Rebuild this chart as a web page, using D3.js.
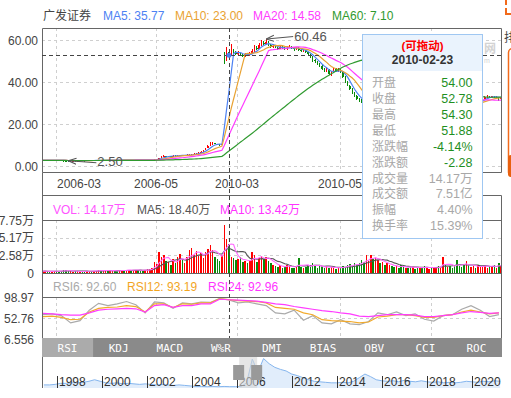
<!DOCTYPE html>
<html>
<head>
<meta charset="utf-8">
<script src="https://cdn.jsdelivr.net/npm/d3@7"></script>
<style>
body { margin: 0; background: #fff; }
text { font-family: "Liberation Sans", Arial, "Noto Sans CJK SC", sans-serif; }
</style>
</head>
<body>
<script>
// daily candles [open, close, high, low], 2006-02-21 .. 2006-06, then 2010-02-12 .. 2010-08
var candles = [
  [2.64,2.66,2.68,2.62],[2.66,2.68,2.70,2.64],[2.68,2.65,2.69,2.63],[2.65,2.63,2.66,2.61],[2.63,2.66,2.67,2.62],
  [2.66,2.70,2.72,2.65],[2.70,2.68,2.71,2.66],[2.68,2.64,2.69,2.62],[2.64,2.60,2.65,2.58],[2.60,2.57,2.61,2.55],
  [2.57,2.55,2.58,2.52],[2.55,2.53,2.56,2.50],[2.53,2.56,2.58,2.52],[2.56,2.58,2.60,2.55],[2.58,2.57,2.60,2.55],
  [2.57,2.60,2.62,2.56],[2.60,2.62,2.64,2.59],[2.62,2.61,2.63,2.59],[2.61,2.59,2.62,2.57],[2.59,2.62,2.63,2.58],
  [2.62,2.64,2.66,2.61],[2.64,2.63,2.66,2.61],[2.63,2.66,2.68,2.62],[2.66,2.69,2.71,2.65],[2.69,2.72,2.75,2.68],
  [2.72,2.70,2.74,2.68],[2.70,2.73,2.75,2.69],[2.73,2.75,2.78,2.72],[2.75,2.72,2.76,2.70],[2.72,2.74,2.76,2.71],
  [2.74,2.77,2.79,2.73],[2.77,2.76,2.79,2.74],[2.76,2.74,2.77,2.72],[2.74,2.78,2.80,2.73],[2.78,2.80,2.83,2.77],
  [2.80,2.79,2.82,2.77],[2.79,2.82,2.84,2.78],[2.82,2.85,2.88,2.81],[2.85,2.83,2.86,2.81],[2.83,2.86,2.88,2.82],
  [2.86,2.88,2.91,2.85],[2.88,2.84,2.89,2.82],[2.84,2.80,2.85,2.78],[2.80,2.77,2.81,2.75],[2.77,2.82,2.84,2.76],
  [2.82,2.86,2.88,2.81],[2.86,2.90,2.93,2.85],[2.90,2.95,2.98,2.88],[2.96,3.10,3.18,2.94],[3.10,3.45,3.52,3.06],
  [3.45,3.90,3.95,3.40],[3.90,4.35,4.60,3.85],[4.35,4.80,5.20,4.30],[4.85,4.62,4.95,4.50],[4.60,4.78,4.90,4.52],
  [4.78,4.70,4.85,4.62],[4.70,4.95,5.05,4.66],[4.95,4.88,5.02,4.80],[4.88,5.05,5.15,4.84],[5.05,5.22,5.40,5.00],
  [5.22,5.00,5.26,4.94],[5.00,5.15,5.22,4.96],[5.15,5.35,5.50,5.10],[5.35,5.48,5.62,5.28],[5.48,5.60,5.75,5.40],
  [5.60,5.85,5.98,5.55],[5.85,6.15,6.30,5.80],[6.15,6.40,6.55,6.08],[6.40,6.80,6.95,6.35],[6.80,7.45,7.60,6.75],
  [7.45,8.60,8.80,7.40],[8.60,9.50,9.90,8.50],[9.50,10.40,11.20,9.40],[10.40,10.95,11.60,10.20],[10.95,10.50,11.10,10.30],
  [10.50,10.10,10.60,9.90],[10.10,9.90,10.30,9.60],[9.90,10.30,10.60,9.80],
  [54.00,49.90,54.30,48.80],[50.20,55.06,56.50,49.80],[54.00,52.78,54.30,51.88],[52.60,55.40,58.00,52.30],[55.00,54.20,55.80,53.50],
  [54.00,53.50,54.60,52.80],[53.40,54.10,54.80,52.90],[54.00,53.00,54.50,52.60],[53.00,52.40,53.60,51.80],[52.50,53.30,54.00,52.00],
  [53.20,52.80,53.80,52.30],[52.80,53.60,54.20,52.50],[53.50,54.80,55.60,53.20],[54.80,56.50,57.40,54.50],[56.40,55.80,57.00,55.20],
  [55.90,57.60,58.80,55.60],[57.50,58.90,59.80,57.00],[58.80,58.00,59.50,57.40],[58.20,59.20,60.46,57.80],[59.00,57.60,59.40,57.10],
  [57.50,56.80,58.00,56.20],[56.80,57.30,57.90,56.40],[57.20,56.50,57.60,56.00],[56.40,55.90,56.90,55.30],[55.90,56.60,57.20,55.50],
  [56.50,56.10,57.00,55.60],[56.00,55.70,56.50,55.10],[55.80,56.40,57.00,55.40],[56.40,56.90,57.60,56.00],[56.80,56.20,57.20,55.80],
  [56.10,55.60,56.50,55.00],[55.60,56.30,56.90,55.30],[56.20,55.40,56.50,54.90],[55.30,54.60,55.70,54.10],[54.60,55.20,55.80,54.20],
  [55.10,54.30,55.40,53.80],[54.20,53.10,54.50,52.60],[53.00,52.00,53.30,51.40],[51.90,50.20,52.20,49.30],[50.30,49.80,51.00,49.10],
  [49.80,48.60,50.20,48.10],[48.50,47.80,49.10,47.20],[47.60,46.40,48.00,45.90],[46.40,45.20,46.80,44.60],[45.30,45.90,46.50,44.80],
  [45.80,43.60,46.00,43.20],[43.50,44.50,45.10,43.00],[44.60,46.10,46.80,44.20],[46.00,45.40,46.60,44.90],[45.30,46.00,46.70,44.80],
  [45.90,44.70,46.20,44.20],[44.60,42.50,44.90,42.00],[42.40,40.10,42.80,39.70],[40.00,38.30,40.50,37.90],[38.20,36.50,38.60,36.00],
  [36.40,34.80,37.00,34.20],[34.80,33.10,35.30,32.70],[33.20,31.90,33.80,31.40],[31.80,31.20,32.50,30.70],[31.10,30.50,31.70,30.00],
  [30.40,30.00,31.00,29.60],[30.00,31.20,31.60,29.50],[31.10,32.60,33.00,30.80],[32.50,34.20,34.80,32.10],[34.10,33.60,34.90,33.20],
  [33.50,34.50,35.00,33.10],[34.40,35.30,35.90,34.00],[35.20,34.70,35.60,34.30],[34.60,35.50,36.00,34.30],[35.40,34.90,35.80,34.50],
  [34.80,35.60,36.10,34.50],[35.50,36.30,36.90,35.20],[36.20,35.70,36.60,35.30],[35.60,35.00,35.90,34.70],[34.90,35.60,36.00,34.60],
  [35.50,35.10,35.90,34.80],[35.00,34.40,35.30,34.00],[34.30,33.80,34.60,33.40],[33.70,34.20,34.60,33.40],[34.10,33.60,34.40,33.30],
  [33.50,33.00,33.80,32.60],[32.90,33.40,33.80,32.60],[33.30,32.80,33.60,32.40],[32.70,32.30,33.10,31.90],[32.20,32.70,33.10,31.90],
  [32.60,32.10,32.90,31.80],[32.00,31.50,32.30,31.10],[31.40,32.00,32.40,31.20],[31.90,32.40,32.80,31.60],[32.30,31.90,32.60,31.60],
  [31.80,32.50,32.90,31.60],[32.40,33.00,33.40,32.10],[32.90,32.60,33.30,32.30],[32.50,33.20,33.60,32.30],[33.10,34.10,34.60,32.90],
  [34.00,33.70,34.40,33.40],[33.60,34.30,34.70,33.40],[34.20,33.50,34.50,33.20],[33.40,32.60,33.70,32.20],[32.50,31.80,32.80,31.40],
  [31.70,31.00,32.00,30.60],[30.90,30.40,31.20,30.00],[30.30,29.80,30.60,29.40],[29.70,29.30,30.00,28.90],[29.20,29.80,30.20,28.90],
  [29.70,29.40,30.00,29.10],[29.30,29.90,30.30,29.00],[29.80,30.40,30.80,29.50],[30.30,30.10,30.70,29.80],[30.00,30.80,31.20,29.80],
  [30.70,31.50,31.90,30.50],[31.40,32.20,32.60,31.10],[32.10,32.80,33.20,31.90],[32.70,33.20,33.60,32.50],[33.10,32.70,33.40,32.40],
  [32.60,33.10,33.50,32.30],[33.00,32.60,33.30,32.30],[32.50,32.90,33.30,32.20],[32.80,32.30,33.00,31.00],[32.20,32.60,32.90,31.90]
];

// volume in 万, same days as candles
var volumes = [
  0.25,0.30,0.22,0.18,0.26,0.35,0.28,0.20,0.30,0.38,0.42,0.33,0.25,0.20,0.24,0.28,0.22,0.19,0.26,0.31,
  0.27,0.23,0.29,0.36,0.40,0.32,0.35,0.44,0.30,0.28,0.37,0.33,0.29,0.41,0.45,0.36,0.40,0.48,0.38,0.42,
  0.50,0.44,0.36,0.33,0.46,0.52,0.60,0.75,
  1.6,1.3,3.1,2.3,2.6,1.8,1.6,1.2,2.0,1.5,2.3,2.8,1.9,1.4,2.4,3.4,3.6,2.6,3.2,2.5,2.9,2.2,3.0,3.5,4.1,3.3,2.4,2.0,1.8,2.6,
  7.0,5.0,4.2,2.4,2.2,1.9,2.0,2.4,1.6,1.8,1.5,1.7,3.1,2.6,1.6,2.2,2.5,2.0,2.4,1.8,
  1.4,1.2,1.0,0.9,1.1,0.8,0.9,1.2,1.0,0.8,0.7,1.0,2.2,0.9,0.8,
  0.9,1.1,1.2,1.4,1.0,0.8,1.1,0.9,0.7,1.0,0.8,0.9,0.7,0.6,0.8,0.9,1.0,
  0.9,1.1,1.3,1.0,1.5,1.2,1.4,1.9,1.6,2.6,1.8,2.6,2.0,2.2,1.9,1.5,1.6,1.2,1.4,1.1,1.0,
  0.9,1.0,0.8,1.1,0.9,0.7,0.8,1.0,0.9,0.6,0.8,0.7,0.9,1.0,0.8,0.6,0.7,0.9,0.8,1.0,
  0.9,2.4,1.1,0.9,1.0,0.8,1.2,1.9,1.0,0.9,1.2,1.7,1.1,0.9,1.0,0.8,1.1,0.9,1.0,1.2,0.8,1.0,0.9,1.1,0.8,1.5,1.0
];

// RSI read every 4th day
var rsiDays = [0,4,8,12,16,20,24,28,32,36,40,44,48,52,56,60,64,68,72,76,80,84,88,92,96,
  100,104,108,112,116,120,124,128,132,136,140,144,148,152,156,160,164,168,172,176,180,184,188,192,196];
var rsi6 = [60,62,58,42,47,70,85,80,84,89,82,64,88,86,74,86,84,88,87,96,92.6,86,88,84,80,
  64,62,70,48,58,42,40,49,40,38,45,64,60,66,58,62,50,46,58,60,72,80,70,56,60];
var rsi12 = [56,57,54,49,50,66,74,76,77,80,78,66,84,84,76,84,83,86,86,95,93.19,91,90,89,86,
  76,74,72,64,60,49,47,46,45,42,44,55,57,60,60,58,54,54,58,60,66,70,66,62,64];
var rsi24 = [63,62,60,59,59,64,70,72,73,74,73,66,80,82,76,80,80,84,84,94,92.96,92,91,90,87,
  84,82,78,75,72,69,67,64,62,57,56,58,60,60,60,59,56,56,58,60,64,67,65,63,64];

var xTickDays = [6, 49, 84, 128, 167];
var xTickLabels = ["2006-03", "2006-05", "2010-03", "2010-05", "2010-07"];
var priceTicks = [0, 20, 40, 60];
var volTicks = [0, 2.58, 5.17, 7.75];
var volTickLabels = ["0", "2.58万", "5.17万", "7.75万"];
var rsiTicks = [6.556, 52.76, 98.97];
var rsiTickLabels = ["6.556", "52.76", "98.97"];

// navigator: whole history, one value per quarter of trading months
var navValues = [6,6,7,9,9,10,10,11,13,16,13,10,9,10,8,9,8,7,8,7,6,7,6,5,6,5,4,3,3,2.5,
  3,2.5,3,2.6,2.6,3,10,56,31,57,47,40,36,33,27,24,20,16,13,12,11,10,10,11,10,13,20,27,22,16,
  14,13,14,12,15,13,12,14,12,11,12,10,11,10,11,13,12,11,13,12,14,13];
var navYears = ["1998","2000","2002","2004","2006","2012","2014","2016","2018","2020"];
var navYearMonths = [8, 32, 56, 80, 104, 133, 157, 181, 205, 229];
var navWindow = [105, 114.6];

var tabNames = ["RSI", "KDJ", "MACD", "W%R", "DMI", "BIAS", "OBV", "CCI", "ROC"];

var crossDay = 80;
var maNames = ["MA5", "MA10", "MA20", "MA60"];
var maDays = [5, 10, 20, 60];
var maColors = ["#4d82f3", "#e9a232", "#ff3cff", "#2f9a2f"];
var maReadout = ["35.77", "23.00", "14.58", "7.10"];
var volReadout = ["14.17万", "18.40万", "13.42万"];
var rsiReadout = ["92.60", "93.19", "92.96"];
var tipLabels = ["开盘", "收盘", "最高", "最低", "涨跌幅", "涨跌额", "成交量", "成交额", "振幅", "换手率"];
var tipValues = ["54.00", "52.78", "54.30", "51.88", "-4.14%", "-2.28", "14.17万", "7.51亿", "4.40%", "15.39%"];

var upColor = "#ff0000", downColor = "#0a8a0a", frameColor = "#666", gridColor = "#cfcfcf";
var left = 42, right = 502;
var tipBox = { x: 362.5, y: 34.5, w: 120, h: 204 };

var svg = d3.select("body").append("svg")
    .attr("width", 511)
    .attr("height", 398);

var x = d3.scaleBand().domain(d3.range(candles.length)).range([left, right]).paddingInner(0.35);
function cx(i) { return x(i) + x.bandwidth() / 2; }
var y = d3.scaleLinear().domain([0, 60]).range([166, 40]);
var yV = d3.scaleLinear().domain([0, 7.75]).range([273, 220]);
var yR = d3.scaleLinear().domain([6.556, 98.97]).range([339, 297]);

function movingAvg(vals, n) {
    return vals.map(function (v, i) {
        return d3.mean(vals.slice(Math.max(0, i - n + 1), i + 1));
    });
}
var closes = candles.map(function (d) { return d[1]; });

var defs = svg.append("defs");
defs.append("clipPath").attr("id", "clipP").append("rect")
    .attr("x", left).attr("y", 28).attr("width", right - left).attr("height", 144);
defs.append("clipPath").attr("id", "clipV").append("rect")
    .attr("x", left).attr("y", 220).attr("width", right - left).attr("height", 53);
defs.append("clipPath").attr("id", "clipR").append("rect")
    .attr("x", left).attr("y", 297).attr("width", right - left).attr("height", 41);
defs.append("marker").attr("id", "arr")
    .attr("viewBox", "0 0 8 8").attr("refX", 0).attr("refY", 4)
    .attr("markerWidth", 8).attr("markerHeight", 8)
    .attr("markerUnits", "userSpaceOnUse").attr("orient", "auto")
    .append("path").attr("d", "M8,1 L0,4 L8,7")
    .attr("fill", "none").attr("stroke", "#555").attr("stroke-width", 1);

// watermark, only its right end shows past the tooltip
svg.append("text").attr("x", 484).attr("y", 53)
    .attr("font-size", 12).attr("font-weight", "bold").attr("fill", "#d3d3d3").text("网");
svg.append("text").attr("x", 484).attr("y", 63)
    .attr("font-size", 7).attr("fill", "#d3d3d3").text("m");

// ---------- grids ----------
var grid = svg.append("g").attr("stroke", gridColor).attr("stroke-dasharray", "3,3");
xTickDays.forEach(function (d) {
    var gx = Math.round(x(d)) + 0.5;
    grid.append("line").attr("x1", gx).attr("x2", gx).attr("y1", 28).attr("y2", 172);
    grid.append("line").attr("x1", gx).attr("x2", gx).attr("y1", 220).attr("y2", 273);
    grid.append("line").attr("x1", gx).attr("x2", gx).attr("y1", 297).attr("y2", 338);
});
priceTicks.forEach(function (t) {
    var gy = Math.round(y(t)) + 0.5;
    grid.append("line").attr("x1", left).attr("x2", right).attr("y1", gy).attr("y2", gy);
});
volTicks.slice(1, 3).forEach(function (t) {
    var gy = Math.round(yV(t)) + 0.5;
    grid.append("line").attr("x1", left).attr("x2", right).attr("y1", gy).attr("y2", gy);
});
var gyR = Math.round(yR(rsiTicks[1])) + 0.5;
grid.append("line").attr("x1", left).attr("x2", right).attr("y1", gyR).attr("y2", gyR);

// ---------- axis labels ----------
var axisText = svg.append("g").attr("font-size", 12).attr("fill", "#444");
priceTicks.forEach(function (t) {
    axisText.append("text").attr("x", 38).attr("y", y(t) + 4.5).attr("text-anchor", "end")
        .text(d3.format(".2f")(t));
});
xTickDays.forEach(function (d, k) {
    var lx = Math.round(x(d));
    // labels that fall behind the tooltip are hidden there
    if (lx > tipBox.x - 20 && lx < tipBox.x + tipBox.w + 20) return;
    var first = k === 0;
    axisText.append("text").attr("x", lx + (first ? 1 : 0)).attr("y", 188)
        .attr("text-anchor", first ? "start" : "middle").text(xTickLabels[k]);
});
volTicks.forEach(function (t, k) {
    axisText.append("text").attr("x", 34).attr("y", yV(t) + 4.5).attr("text-anchor", "end")
        .text(volTickLabels[k]);
});
rsiTicks.forEach(function (t, k) {
    axisText.append("text").attr("x", 34).attr("y", yR(t) + 4.5).attr("text-anchor", "end")
        .text(rsiTickLabels[k]);
});

// ---------- candles ----------
var cg = svg.append("g").attr("clip-path", "url(#clipP)").attr("shape-rendering", "crispEdges");
candles.forEach(function (d, i) {
    var col = d[1] >= d[0] ? upColor : downColor;
    cg.append("line").attr("x1", cx(i)).attr("x2", cx(i))
        .attr("y1", y(d[2])).attr("y2", y(d[3])).attr("stroke", col);
    var top = y(Math.max(d[0], d[1])), bot = y(Math.min(d[0], d[1]));
    cg.append("rect").attr("x", x(i)).attr("width", x.bandwidth())
        .attr("y", top).attr("height", Math.max(1, bot - top)).attr("fill", col);
});

// moving averages
var mg = svg.append("g").attr("clip-path", "url(#clipP)").attr("fill", "none").attr("stroke-width", 1.2);
maDays.forEach(function (n, k) {
    var ma = movingAvg(closes, n);
    mg.append("path")
        .attr("d", d3.line().x(function (v, i) { return cx(i); }).y(function (v) { return y(v); })(ma))
        .attr("stroke", maColors[k]);
});

// max / min marks
var iMax = d3.maxIndex(candles, function (d) { return d[2]; });
var iMin = d3.minIndex(candles, function (d) { return d[3]; });
var pMax = [cx(iMax), y(candles[iMax][2])];
var pMin = [cx(iMin), y(candles[iMin][3])];
svg.append("line").attr("x1", pMax[0]).attr("y1", pMax[1]).attr("x2", pMax[0] + 27).attr("y2", pMax[1] - 2.5)
    .attr("stroke", "#555").attr("marker-start", "url(#arr)");
svg.append("text").attr("x", pMax[0] + 28).attr("y", pMax[1] + 2).attr("font-size", 13).attr("fill", "#555")
    .text(d3.format(".2f")(candles[iMax][2]));
svg.append("line").attr("x1", pMin[0]).attr("y1", pMin[1]).attr("x2", pMin[0] + 28).attr("y2", pMin[1] + 2)
    .attr("stroke", "#555").attr("marker-start", "url(#arr)");
svg.append("text").attr("x", pMin[0] + 29).attr("y", pMin[1] + 5.5).attr("font-size", 13).attr("fill", "#555")
    .text(d3.format(".2f")(candles[iMin][3]));

// ---------- volume ----------
var vg = svg.append("g").attr("clip-path", "url(#clipV)").attr("shape-rendering", "crispEdges");
volumes.forEach(function (v, i) {
    var prev = i > 0 ? candles[i - 1][1] : candles[i][0];
    vg.append("rect").attr("x", x(i)).attr("width", x.bandwidth())
        .attr("y", yV(v)).attr("height", yV(0) - yV(v))
        .attr("fill", candles[i][1] >= prev ? upColor : downColor);
});
var vLine = d3.line().x(function (v, i) { return cx(i); }).y(function (v) { return yV(v); });
svg.append("path").attr("d", vLine(movingAvg(volumes, 10))).attr("fill", "none")
    .attr("stroke", "#555").attr("stroke-width", 1.1).attr("clip-path", "url(#clipV)");
svg.append("path").attr("d", vLine(movingAvg(volumes, 5))).attr("fill", "none")
    .attr("stroke", "#ff6cff").attr("stroke-width", 1.1).attr("clip-path", "url(#clipV)");

// ---------- RSI ----------
var rLine = d3.line().x(function (v, k) { return cx(rsiDays[k]); }).y(function (v) { return yR(v); });
var rg = svg.append("g").attr("clip-path", "url(#clipR)").attr("fill", "none").attr("stroke-width", 1.2);
rg.append("path").attr("d", rLine(rsi6)).attr("stroke", "#aaaaaa");
rg.append("path").attr("d", rLine(rsi12)).attr("stroke", "#f2aa2a");
rg.append("path").attr("d", rLine(rsi24)).attr("stroke", "#ff3cff");

// ---------- headers ----------
function legend(items, ty) {
    var g = svg.append("g").attr("font-size", 12);
    items.forEach(function (it) {
        g.append("text").attr("x", it[0]).attr("y", ty).attr("fill", it[2]).text(it[1]);
    });
}
legend([[43, "广发证券", "#444"],
    [103, maNames[0] + ": " + maReadout[0], maColors[0]],
    [175, maNames[1] + ": " + maReadout[1], maColors[1]],
    [253, maNames[2] + ": " + maReadout[2], maColors[2]],
    [332, maNames[3] + ": " + maReadout[3], maColors[3]]], 20);
legend([[53, "VOL: " + volReadout[0], "#ff55ff"],
    [137, "MA5: " + volReadout[1], "#555"],
    [220, "MA10: " + volReadout[2], "#ff33ff"]], 214);
legend([[53, "RSI6: " + rsiReadout[0], "#aaaaaa"],
    [127, "RSI12: " + rsiReadout[1], "#f2a51f"],
    [208, "RSI24: " + rsiReadout[2], "#ff33ff"]], 291);

// ---------- frames ----------
svg.append("path")
    .attr("d", "M42.5,28.5H501.5V172.5H42.5Z M42.5,172.5V388 M42.5,195.5H501.5V338 " +
        "M42.5,220.5H501.5 M42.5,273.5H501.5 M42.5,297.5H501.5")
    .attr("fill", "none").attr("stroke", frameColor);

// ---------- tabs ----------
var tx = d3.scaleBand().domain(tabNames).range([left, right]);
svg.append("rect").attr("x", left).attr("y", 338).attr("width", right - left).attr("height", 19).attr("fill", "#8a8a8a");
svg.append("rect").attr("x", left).attr("y", 338).attr("width", tx.bandwidth()).attr("height", 19).attr("fill", "#ababab");
tabNames.forEach(function (n) {
    svg.append("text").attr("x", tx(n) + tx.bandwidth() / 2).attr("y", 351.5)
        .attr("text-anchor", "middle").attr("font-size", 11).attr("fill", "#fff")
        .style("font-family", "'DejaVu Sans Mono', 'Liberation Mono', monospace").text(n);
});

// ---------- navigator ----------
var nx = d3.scaleLinear().domain([0, 245]).range([left, right]);
var ny = d3.scaleLinear().domain([0, 60]).range([388, 357]);
var navX = function (v, k) { return nx(k * 3 + 1); };
svg.append("path")
    .attr("d", d3.area().x(navX).y0(388).y1(function (v) { return ny(v); })(navValues))
    .attr("fill", "#e1edfb");
svg.append("path")
    .attr("d", d3.line().x(navX).y(function (v) { return ny(v); })(navValues))
    .attr("fill", "none").attr("stroke", "#86b6ee").attr("stroke-width", 1);
navYears.forEach(function (yr, k) {
    var px = Math.round(nx(navYearMonths[k])) + 0.5;
    svg.append("line").attr("x1", px).attr("x2", px).attr("y1", 376).attr("y2", 388).attr("stroke", "#333");
    svg.append("text").attr("x", px + 1.5).attr("y", 386).attr("font-size", 12).attr("fill", "#333").text(yr);
});
svg.append("rect").attr("x", nx(navWindow[0])).attr("y", 357)
    .attr("width", nx(navWindow[1]) - nx(navWindow[0])).attr("height", 31)
    .attr("fill", "#d6d6d6").attr("opacity", 0.6);
navWindow.forEach(function (m) {
    svg.append("rect").attr("x", nx(m) - 6).attr("y", 365).attr("width", 11).attr("height", 15).attr("fill", "#999");
});

// ---------- crosshair ----------
var chx = Math.round(cx(crossDay)) + 0.5;
var chy = Math.round(y(closes[crossDay])) + 0.5;
svg.append("line").attr("x1", chx).attr("x2", chx).attr("y1", 28).attr("y2", 338)
    .attr("stroke", "#444").attr("stroke-dasharray", "4,3");
svg.append("line").attr("x1", left).attr("x2", right).attr("y1", chy).attr("y2", chy)
    .attr("stroke", "#444").attr("stroke-dasharray", "4,3");
svg.append("circle").attr("cx", cx(crossDay)).attr("cy", y(closes[crossDay])).attr("r", 2.5).attr("fill", maColors[0]);

// ---------- neighbour panel edge (right side) ----------
svg.append("path").attr("d", "M506,0V5 M506,8V14H511").attr("fill", "none").attr("stroke", "#f26a1b").attr("stroke-width", 2);
svg.append("text").attr("x", 504).attr("y", 42).attr("font-size", 12).attr("fill", "#444").text("排");
svg.append("rect").attr("x", 508.5).attr("y", 48.5).attr("width", 30).attr("height", 128).attr("rx", 4)
    .attr("fill", "none").attr("stroke", "#f26a1b").attr("stroke-width", 1.5);
svg.append("rect").attr("x", 508).attr("y", 155).attr("width", 10).attr("height", 22).attr("rx", 3).attr("fill", "#e8600f");

// ---------- tooltip ----------
var tip = svg.append("g").attr("transform", "translate(" + tipBox.x + "," + tipBox.y + ")");
tip.append("rect").attr("width", tipBox.w).attr("height", tipBox.h).attr("fill", "#fff");
tip.append("rect").attr("width", tipBox.w).attr("height", 36.5).attr("fill", "#eaf3fd");
tip.append("rect").attr("width", tipBox.w).attr("height", tipBox.h).attr("fill", "none").attr("stroke", "#9fc7f2");
tip.append("text").attr("x", 60).attr("y", 15.5).attr("text-anchor", "middle")
    .attr("font-size", 11.5).attr("font-weight", "bold").attr("fill", "#ff0000").text("(可拖动)");
tip.append("text").attr("x", 60).attr("y", 29.5).attr("text-anchor", "middle")
    .attr("font-size", 12).attr("font-weight", "bold").attr("fill", "#333").text("2010-02-23");
tipLabels.forEach(function (lab, k) {
    var ty = 48.3 + k * 15.9 + 4.3;
    tip.append("text").attr("x", 9.5).attr("y", ty).attr("font-size", 12).attr("fill", "#a8a8a8").text(lab);
    tip.append("text").attr("x", 110).attr("y", ty).attr("text-anchor", "end").attr("font-size", 12.5)
        .attr("fill", k < 6 ? "#1f8f1f" : "#a8a8a8").text(tipValues[k]);
});
</script>
</body>
</html>
